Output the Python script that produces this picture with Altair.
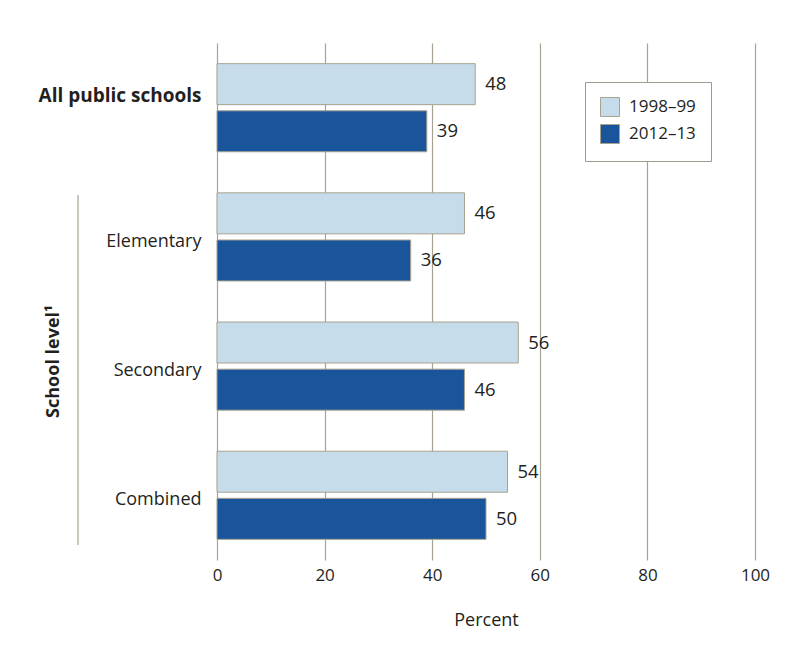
import altair as alt
import pandas as pd

categories = ["All public schools", "Elementary", "Secondary", "Combined"]
years = ["1998–99", "2012–13"]
values_1998 = [48, 46, 56, 54]
values_2012 = [39, 36, 46, 50]
x_ticks = [0, 20, 40, 60, 80, 100]

rows = []
for c, v1, v2 in zip(categories, values_1998, values_2012):
    rows.append({"cat": c, "year": years[0], "pct": v1})
    rows.append({"cat": c, "year": years[1], "pct": v2})
df = pd.DataFrame(rows)

FONT = "Open Sans"
TXT = "#231f20"
GRID = "#a8a290"

y_enc = alt.Y(
    "cat:N", sort=categories,
    scale=alt.Scale(paddingInner=0.318, paddingOuter=0.16),
    axis=alt.Axis(
        title="School level¹", titleFontWeight="bold", titleFontSize=18,
        titleColor=TXT, titleFont=FONT, titleAngle=270,
        titleX=-164, titleY=318, titleAlign="center", titleBaseline="middle",
        labelColor=TXT, labelFont=FONT, labelPadding=16,
        labelFontSize=alt.ExprRef("datum.value == 'All public schools' ? 19 : 18"),
        labelFontWeight=alt.ExprRef("datum.value == 'All public schools' ? 'bold' : 'normal'"),
        labelOffset=alt.ExprRef("datum.value == 'All public schools' ? -12 : 5"),
        ticks=False, domain=False, grid=False, labelLimit=300,
    ),
)
yoff_enc = alt.YOffset("year:N", sort=years, scale=alt.Scale(paddingInner=0.13, paddingOuter=0))
x_enc = alt.X(
    "pct:Q", scale=alt.Scale(domain=[0, 100]),
    axis=alt.Axis(
        values=x_ticks, title="Percent", grid=True, gridColor=GRID, gridWidth=1.2,
        ticks=False, domain=False, labelFontSize=17, labelColor=TXT, labelFont=FONT,
        labelPadding=7, labelFlush=False, titleFontSize=18, titleFontWeight="normal",
        titleColor=TXT, titleFont=FONT, titlePadding=28,
    ),
)

bars = alt.Chart(df).mark_bar(stroke=GRID, strokeWidth=1).encode(
    x=x_enc, y=y_enc, yOffset=yoff_enc,
    color=alt.Color(
        "year:N", sort=years,
        scale=alt.Scale(domain=years, range=["#c6dcea", "#1a559c"]),
        legend=alt.Legend(
            title=None, orient="none", legendX=368, legendY=39,
            fillColor="white", strokeColor="#a09a8c", padding=15,
            symbolType="square", symbolSize=361, symbolStrokeColor=GRID,
            symbolStrokeWidth=1, symbolOpacity=1, labelFontSize=17, labelColor=TXT,
            labelFont=FONT, rowPadding=3, labelOffset=9, symbolOffset=0,
        ),
    ),
)

labels = alt.Chart(df).mark_text(
    align="left", baseline="middle", dx=10, fontSize=18.5, font=FONT, color=TXT
).encode(x="pct:Q", y=alt.Y("cat:N", sort=categories), yOffset=alt.YOffset("year:N", sort=years), text="pct:Q")

bracket = alt.Chart(pd.DataFrame({"a": [0]})).mark_rule(color=GRID, strokeWidth=1.2).encode(
    x=alt.value(-139), y=alt.value(152), y2=alt.value(502)
)

chart = alt.layer(bars, labels, bracket).properties(
    width=538, height=517,
    padding={"left": 209, "top": 35, "right": 27, "bottom": 95},
    autosize=alt.AutoSizeParams(type="none"),
).configure_view(stroke=None)

chart.save("out.html", embed_options={"renderer": "svg", "actions": False})
